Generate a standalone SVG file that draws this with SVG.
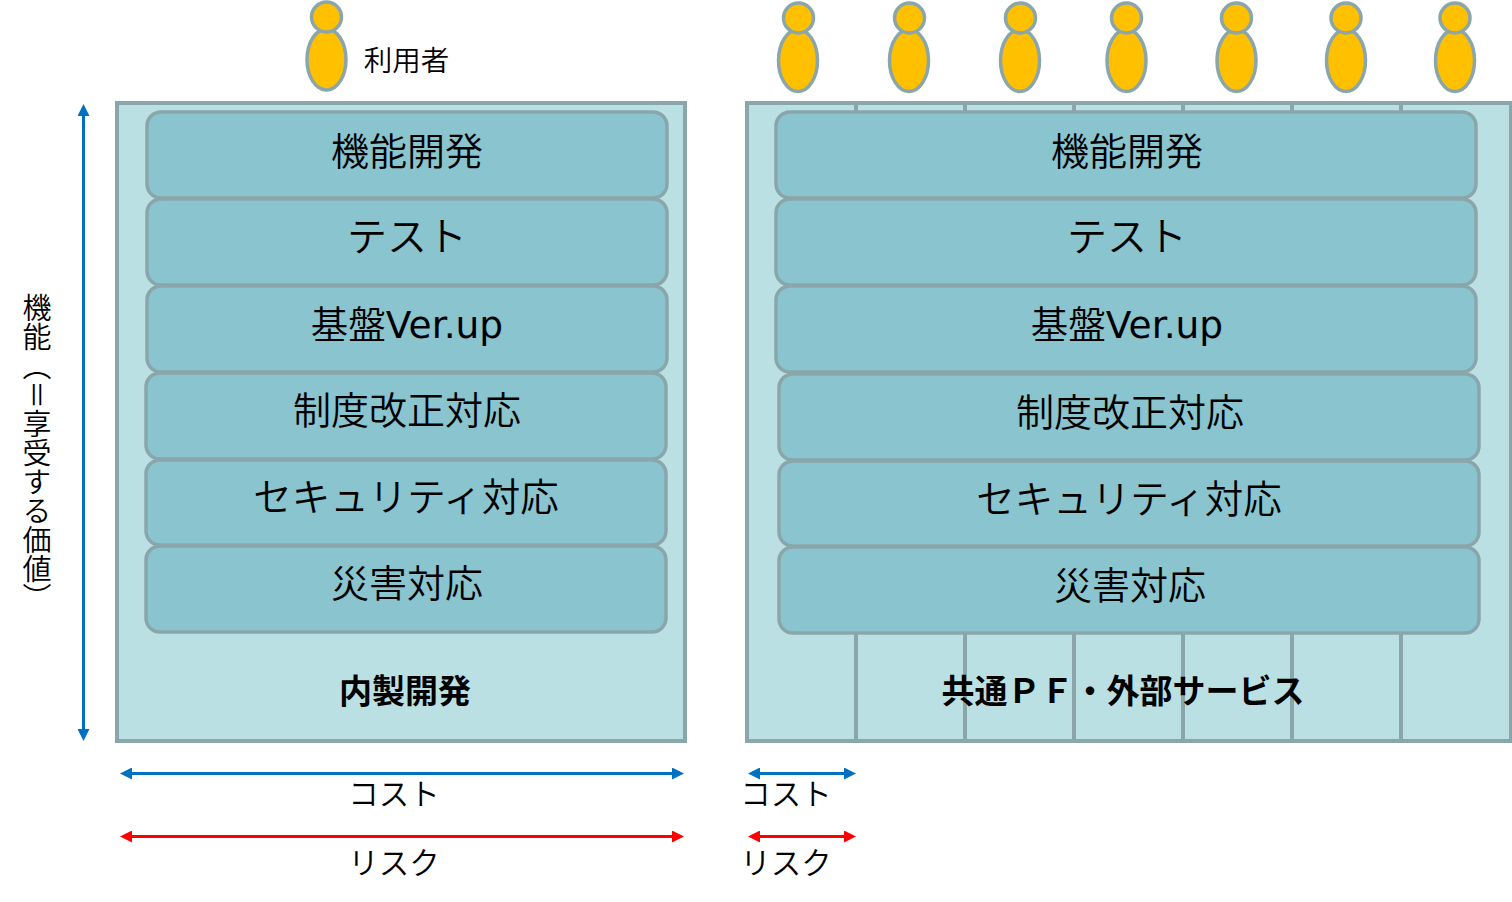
<svg xmlns="http://www.w3.org/2000/svg" width="1512" height="902" viewBox="0 0 1512 902">
<style>
text{font-family:"DejaVu Sans","Noto Sans CJK JP",sans-serif;fill:#000;text-anchor:middle}
.cjk{font-family:"Noto Sans CJK JP",sans-serif;font-weight:350}
.box{fill:#BAE0E3;stroke:#8AA6AA;stroke-width:4}
.div{stroke:#8AA6AA;stroke-width:4;fill:none}
.row{fill:#8AC4CE;stroke:#8AA6AA;stroke-width:3.5}
.t{font-size:38px}
.k{font-size:40px}
.v{font-size:37.5px}
.s{font-size:38.5px}
.b{font-size:33px;font-weight:700;font-family:"Noto Sans CJK JP",sans-serif}
.l{font-size:30.5px}
.p{fill:#FFC000;stroke:#8AA6AA;stroke-width:3.5}
.ab{stroke:#0070C0;stroke-width:3;fill:none;marker-start:url(#hb);marker-end:url(#hb)}
.ar{stroke:#FF0000;stroke-width:3;fill:none;marker-start:url(#hr);marker-end:url(#hr)}
</style>
<defs>
<marker id="hb" markerUnits="userSpaceOnUse" markerWidth="12" markerHeight="12" refX="0" refY="6" orient="auto-start-reverse"><path d="M0,0L12,6L0,12z" fill="#0070C0"/></marker>
<marker id="hr" markerUnits="userSpaceOnUse" markerWidth="12" markerHeight="12" refX="0" refY="6" orient="auto-start-reverse"><path d="M0,0L12,6L0,12z" fill="#FF0000"/></marker>
</defs>
<g id="left-panel"><rect class="box" x="117" y="103" width="568" height="638"/></g>
<g id="right-panel"><rect class="box" x="747" y="103" width="764" height="638"/>
<path class="div" d="M856,103V741M965,103V741M1074,103V741M1183,103V741M1292,103V741M1401,103V741"/></g>
<g id="l1"><rect class="row" x="147" y="112" width="520" height="86" rx="14"/><text class="t cjk" x="407" y="165">機能開発</text></g>
<g id="l2"><rect class="row" x="147" y="199" width="520" height="86" rx="14"/><text class="k cjk" x="407" y="251">テスト</text></g>
<g id="l3"><rect class="row" x="147" y="286" width="520" height="86" rx="14"/><text class="v" x="407" y="338"><tspan class="cjk">基盤</tspan>Ver.up</text></g>
<g id="l4"><rect class="row" x="146" y="373" width="520" height="86" rx="14"/><text class="t cjk" x="407" y="424">制度改正対応</text></g>
<g id="l5"><rect class="row" x="146" y="460" width="520" height="85" rx="14"/><text class="s cjk" x="406" y="511">セキュリティ対応</text></g>
<g id="l6"><rect class="row" x="146" y="546" width="520" height="86" rx="14"/><text class="t cjk" x="407" y="597">災害対応</text></g>
<g id="r1"><rect class="row" x="776" y="112" width="700" height="86" rx="14"/><text class="t cjk" x="1127" y="165">機能開発</text></g>
<g id="r2"><rect class="row" x="776" y="199" width="700" height="86" rx="14"/><text class="k cjk" x="1127" y="251">テスト</text></g>
<g id="r3"><rect class="row" x="776" y="286" width="700" height="86" rx="14"/><text class="v" x="1127" y="338"><tspan class="cjk">基盤</tspan>Ver.up</text></g>
<g id="r4"><rect class="row" x="779" y="374" width="700" height="86" rx="14"/><text class="t cjk" x="1130" y="426">制度改正対応</text></g>
<g id="r5"><rect class="row" x="779" y="461" width="700" height="85" rx="14"/><text class="s cjk" x="1129" y="513">セキュリティ対応</text></g>
<g id="r6"><rect class="row" x="779" y="547" width="700" height="86" rx="14"/><text class="t cjk" x="1130" y="599">災害対応</text></g>
<g id="label-left"><text class="b" x="405" y="703">内製開発</text></g>
<g id="label-right"><text class="b" x="1123" y="703">共通ＰＦ・外部サービス</text></g>
<g id="user-main"><ellipse class="p" cx="326.5" cy="59.500" rx="19.5" ry="30.5"/><circle class="p" cx="326.5" cy="17" r="15"/></g>
<g id="user-1"><ellipse class="p" cx="798" cy="60.5" rx="19.5" ry="31"/><circle class="p" cx="798.5" cy="18" r="15"/></g>
<g id="user-2"><ellipse class="p" cx="909" cy="60.5" rx="19.5" ry="31"/><circle class="p" cx="909.5" cy="18" r="15"/></g>
<g id="user-3"><ellipse class="p" cx="1020" cy="60.5" rx="19.5" ry="31"/><circle class="p" cx="1020.5" cy="18" r="15"/></g>
<g id="user-4"><ellipse class="p" cx="1126.5" cy="60.5" rx="19.5" ry="31"/><circle class="p" cx="1126.5" cy="18" r="15"/></g>
<g id="user-5"><ellipse class="p" cx="1236.5" cy="60.5" rx="19.5" ry="31"/><circle class="p" cx="1236.5" cy="18" r="15"/></g>
<g id="user-6"><ellipse class="p" cx="1346" cy="60.5" rx="19.5" ry="31"/><circle class="p" cx="1346" cy="18" r="15"/></g>
<g id="user-7"><ellipse class="p" cx="1455" cy="60.5" rx="19.5" ry="31"/><circle class="p" cx="1455" cy="18" r="15"/></g>
<g id="connectors">
<path class="ab" d="M83.5,116V729"/>
<path class="ab" d="M132,773.5H672"/>
<path class="ar" d="M132,836.5H672"/>
<path class="ab" d="M760,773.5H844"/>
<path class="ar" d="M760,836.5H844"/>
</g>
<g id="labels">
<text class="cjk" x="406.5" y="70.5" font-size="28.5">利用者</text>
<text class="l cjk" x="394" y="805">コスト</text>
<text class="l cjk" x="394" y="874">リスク</text>
<text class="l cjk" x="786" y="805">コスト</text>
<text class="l cjk" x="786" y="874">リスク</text>
<text class="cjk" x="37" y="453" font-size="29" style="writing-mode:vertical-rl;text-orientation:upright">機能（＝享受する価値）</text>
</g>
</svg>
